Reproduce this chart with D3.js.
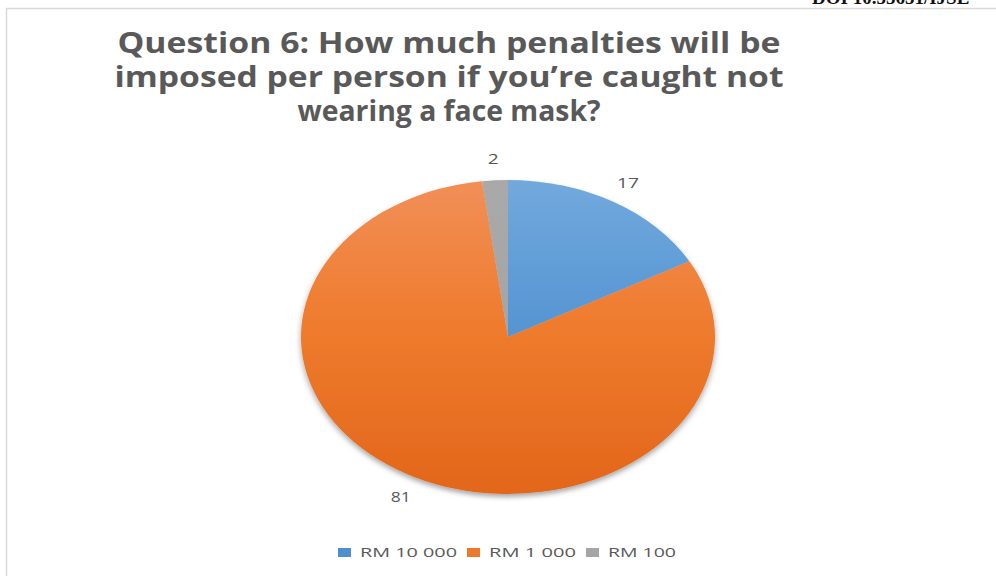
<!DOCTYPE html>
<html>
<head>
<meta charset="utf-8">
<script src="https://cdn.jsdelivr.net/npm/d3@7"></script>
<style>
  body { margin: 0; background: #ffffff; }
  svg { display: block; }
</style>
</head>
<body>
<svg id="chart" width="996" height="576"></svg>
<script>
// Survey answers: penalty per person for not wearing a face mask
const categories = ["RM 10 000", "RM 1 000", "RM 100"];
const values = [17, 81, 2];
const titleLines = [
  "Question 6: How much penalties will be",
  "imposed per person if you\u2019re caught not",
  "wearing a face mask?"
];
const headerText = "DOI 10.55651/IJSE";

// Colours: top / middle / bottom stops of each slice gradient
const colorTop = ["#72a9dd", "#f18f58", "#a9a9a9"];
const colorMid = ["#5796d3", "#ef7c2e", "#a5a5a5"];
const colorBottom = ["#4383c2", "#e2661a", "#a0a0a0"];
const legendFill = ["#4f8fcf", "#ed7a2c", "#a5a5a5"];

const svg = d3.select("#chart");
const W = 996, H = 576;

// Layout
const cx = 508, cy = 337;        // pie centre
const ry = 157;                  // vertical radius
const sx = 207 / 157;            // horizontal stretch of the pie
const labelR = 179;

const defs = svg.append("defs");
categories.forEach((c, i) => {
  const g = defs.append("linearGradient")
    .attr("id", "grad" + i)
    .attr("gradientUnits", "userSpaceOnUse")
    .attr("x1", 0).attr("y1", -ry).attr("x2", 0).attr("y2", ry);
  g.append("stop").attr("offset", "0%").attr("stop-color", colorTop[i]);
  g.append("stop").attr("offset", "45%").attr("stop-color", colorMid[i]);
  g.append("stop").attr("offset", "100%").attr("stop-color", colorBottom[i]);
});
const shadow = defs.append("filter").attr("id", "pieShadow")
  .attr("x", "-20%").attr("y", "-20%").attr("width", "140%").attr("height", "140%");
shadow.append("feDropShadow")
  .attr("dx", 0).attr("dy", 3).attr("stdDeviation", 2.5)
  .attr("flood-color", "#000").attr("flood-opacity", 0.35);

// Header line cut by the top edge
svg.append("text")
  .attr("x", 812).attr("y", 4)
  .attr("font-family", "Liberation Serif, serif")
  .attr("font-weight", "bold")
  .attr("font-size", 19)
  .attr("fill", "#111")
  .text(headerText);

// Chart frame (top and left edges visible)
svg.append("path")
  .attr("d", `M6.5,${H + 2} V8.5 H${W + 2}`)
  .attr("fill", "none")
  .attr("stroke", "#d9d9d9")
  .attr("stroke-width", 1.5);

// Title
const titleX = 449;
const titleBase = [53, 87, 121];
const titleWidths = [663, 669, 303];
svg.append("g").selectAll("text")
  .data(titleLines)
  .join("text")
  .attr("x", titleX)
  .attr("y", (d, i) => titleBase[i])
  .attr("text-anchor", "middle")
  .attr("font-family", "Open Sans, sans-serif")
  .attr("font-weight", "bold")
  .attr("font-size", 29)
  .attr("fill", "#595959")
  .attr("textLength", (d, i) => titleWidths[i])
  .attr("lengthAdjust", "spacingAndGlyphs")
  .text(d => d);

// Pie
const pie = d3.pie().sort(null).value(d => d.value);
const arcs = pie(categories.map((c, i) => ({ name: c, value: values[i], i })));
const arc = d3.arc().innerRadius(0).outerRadius(ry);

const pieG = svg.append("g")
  .attr("transform", `translate(${cx},${cy}) scale(${sx},1)`)
  .attr("filter", "url(#pieShadow)");
pieG.selectAll("path")
  .data(arcs)
  .join("path")
  .attr("d", arc)
  .attr("fill", d => `url(#grad${d.data.i})`);

// Data labels outside the slices
const labelWidths = { "17": 22, "81": 20, "2": 11 };
svg.append("g").selectAll("text")
  .data(arcs)
  .join("text")
  .attr("x", d => {
    const a = (d.startAngle + d.endAngle) / 2;
    return cx + sx * labelR * Math.sin(a);
  })
  .attr("y", d => {
    const a = (d.startAngle + d.endAngle) / 2;
    return cy - labelR * Math.cos(a);
  })
  .attr("text-anchor", "middle")
  .attr("dominant-baseline", "central")
  .attr("font-family", "Open Sans, sans-serif")
  .attr("font-size", 14)
  .attr("fill", "#595959")
  .attr("textLength", d => labelWidths[String(d.data.value)])
  .attr("lengthAdjust", "spacingAndGlyphs")
  .text(d => d.data.value);

// Legend
const legendTextW = [97, 87, 68];
const legendY = 552.5;
let lx = 338;
const legend = svg.append("g");
categories.forEach((c, i) => {
  legend.append("rect")
    .attr("x", lx).attr("y", legendY - 4.5)
    .attr("width", 13).attr("height", 9)
    .attr("fill", legendFill[i]);
  legend.append("text")
    .attr("x", lx + 22).attr("y", legendY)
    .attr("dominant-baseline", "central")
    .attr("font-family", "Open Sans, sans-serif")
    .attr("font-size", 12.5)
    .attr("fill", "#595959")
    .attr("textLength", legendTextW[i])
    .attr("lengthAdjust", "spacingAndGlyphs")
    .text(c);
  lx += 22 + legendTextW[i] + 10;
});
</script>
</body>
</html>
